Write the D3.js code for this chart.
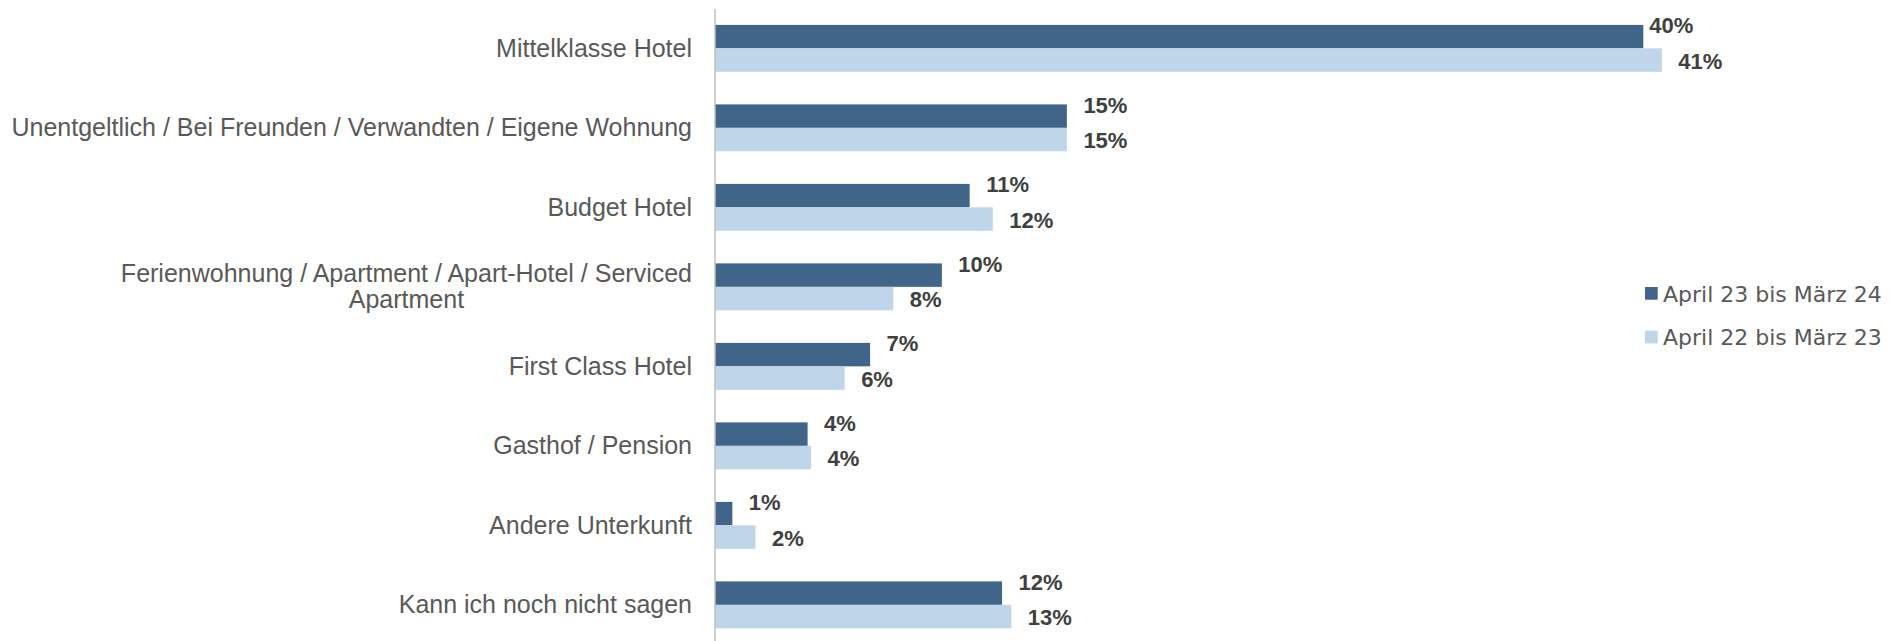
<!DOCTYPE html>
<html>
<head>
<meta charset="utf-8">
<script src="https://cdn.jsdelivr.net/npm/d3@7"></script>
<style>
  body { margin: 0; background: #fff; }
  .cat { font-family: "Liberation Sans", Arial, sans-serif; font-size: 25px; fill: #595959; }
  .val { font-family: "Liberation Sans", Arial, sans-serif; font-size: 22px; font-weight: bold; fill: #404040; }
  .legend { font-family: "DejaVu Sans", sans-serif; font-size: 22px; fill: #595959; }
</style>
</head>
<body>
<div id="chart"></div>
<script>
var categories = [
  "Mittelklasse Hotel",
  "Unentgeltlich / Bei Freunden / Verwandten / Eigene Wohnung",
  "Budget Hotel",
  "Ferienwohnung / Apartment / Apart-Hotel / Serviced\nApartment",
  "First Class Hotel",
  "Gasthof / Pension",
  "Andere Unterkunft",
  "Kann ich noch nicht sagen"
];
var seriesNames = ["April 23 bis März 24", "April 22 bis März 23"];
var current = [40.1, 15.2, 11.0, 9.8, 6.7, 4.0, 0.75, 12.4];
var previous = [40.9, 15.2, 12.0, 7.7, 5.6, 4.15, 1.75, 12.8];
var colors = ["#416489", "#bfd5e9"];

var width = 1891, height = 641;

var svg = d3.select("#chart")
  .append("svg")
    .attr("width", width)
    .attr("height", height);

var x = d3.scaleLinear()
  .domain([0, 45])
  .range([715, 715 + 45 * 23.15]);

var y = d3.scaleBand()
  .domain(categories)
  .range([8.6, 644.6])
  .paddingInner(0.41)
  .paddingOuter(0.205);

var ySub = d3.scaleBand()
  .domain([0, 1])
  .range([0, y.bandwidth()]);

var rows = categories.map(function(c, i) {
  return { cat: c, values: [current[i], previous[i]] };
});

var groups = svg.selectAll(".grp")
  .data(rows)
  .join("g")
    .attr("class", "grp")
    .attr("transform", d => "translate(0," + y(d.cat) + ")");

groups.selectAll("rect")
  .data(d => d.values.map((v, s) => ({ v: v, s: s })))
  .join("rect")
    .attr("x", x(0))
    .attr("y", d => ySub(d.s))
    .attr("width", d => x(d.v) - x(0))
    .attr("height", ySub.bandwidth())
    .style("fill", d => colors[d.s]);

// data labels: dark series label sits a bit above its bar (as in the original)
groups.each(function(row, i) {
  d3.select(this).selectAll("text.val")
    .data(row.values.map((v, s) => ({ v: v, s: s })))
    .join("text")
      .attr("class", "val")
      .attr("x", d => x(d.v) + ((i === 0 && d.s === 0) ? 6 : 16.5))
      .attr("y", d => ySub(d.s) + ySub.bandwidth() / 2 + (d.s === 0 ? -3.5 : 8.5))
      .text(d => Math.round(d.v) + "%");
});

// axis line
svg.append("line")
  .attr("x1", x(0)).attr("x2", x(0))
  .attr("y1", 9).attr("y2", height)
  .style("stroke", "#bfbfbf")
  .style("stroke-width", 1.5);

// category labels
var labelRight = 692;
categories.forEach(function(c) {
  var lines = c.split("\n");
  var cy = y(c) + y.bandwidth() / 2;
  var lh = 26;
  var t = svg.append("text")
    .attr("class", "cat")
    .attr("text-anchor", "end");
  var first = t.append("tspan")
    .attr("x", labelRight)
    .attr("y", cy + 8.5 - (lines.length - 1) * lh / 2)
    .text(lines[0]);
  if (lines.length > 1) {
    var w = first.node().getComputedTextLength();
    var mid = labelRight - w / 2;
    t.attr("text-anchor", "middle");
    first.attr("x", mid);
    lines.slice(1).forEach(function(l, k) {
      t.append("tspan")
        .attr("x", mid)
        .attr("y", cy + 8.5 - (lines.length - 1) * lh / 2 + (k + 1) * lh)
        .text(l);
    });
  }
});

// legend
var legend = svg.append("g")
  .attr("transform", "translate(1645,287)");
seriesNames.forEach(function(n, i) {
  legend.append("rect")
    .attr("x", 0)
    .attr("y", i * 43.7)
    .attr("width", 12.7)
    .attr("height", 12.7)
    .style("fill", colors[i]);
  legend.append("text")
    .attr("class", "legend")
    .attr("x", 18)
    .attr("y", i * 43.7 + 14.5)
    .text(n);
});
</script>
</body>
</html>
